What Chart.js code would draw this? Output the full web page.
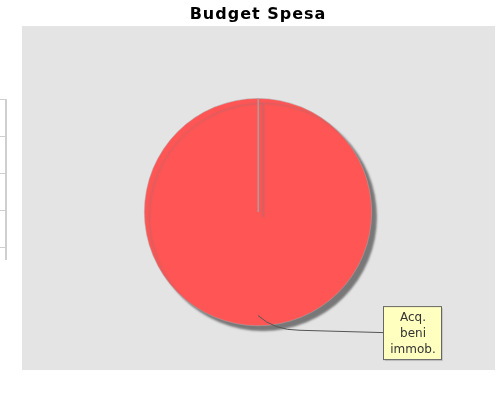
<!DOCTYPE html>
<html lang="it">
<head>
  <meta charset="UTF-8">
  <title>Budget Spesa</title>
  <script src="https://cdn.jsdelivr.net/npm/chart.js"></script>
  <style>
    body { margin: 0; background: #fff; }
    #wrap { position: relative; width: 497px; height: 398px; }
    #budgetChart { position: absolute; left: 0; top: 0; }
    /* pezzo di tabella tagliato a sinistra */
    .tabella { position: absolute; left: 0; top: 99px; width: 5px; border-right: 2px solid #cfcfcf; }
    .tabella div { height: 36px; border-top: 1px solid #cfcfcf; }
  </style>
</head>
<body>
  <div id="wrap">
    <div class="tabella"><div></div><div></div><div></div><div></div><div style="height:12px"></div></div>
    <canvas id="budgetChart" width="497" height="398"></canvas>
  </div>

  <script>
    const titolo = 'Budget Spesa';
    const voci = ['Acq. beni immob.'];
    const etichette = [['Acq.', 'beni', 'immob.']];
    const importi = [100];
    const colori = ['#FF5555'];

    // sfondo grigio dell'area del grafico (e spaziatura del titolo)
    const sfondo = {
      id: 'sfondo',
      beforeDraw(chart) {
        const ctx = chart.ctx;
        ctx.save();
        ctx.fillStyle = '#E4E4E4';
        ctx.fillRect(22, 26, 473, 344);
        ctx.restore();
        ctx.letterSpacing = '1px';
      }
    };

    // ombra della torta
    const ombra = {
      id: 'ombra',
      beforeDatasetsDraw(chart) {
        const ctx = chart.ctx;
        ctx.letterSpacing = '0px';
        ctx.save();
        ctx.shadowColor = 'rgba(120,120,120,1)';
        ctx.shadowOffsetX = 5;
        ctx.shadowOffsetY = 5;
        ctx.shadowBlur = 2;
      },
      afterDatasetsDraw(chart) {
        chart.ctx.restore();
      }
    };

    // bordo radiale e etichetta con linea di collegamento
    const etichetta = {
      id: 'etichetta',
      afterDatasetsDraw(chart) {
        const ctx = chart.ctx;
        const arc = chart.getDatasetMeta(0).data[0];
        const cx = arc.x, cy = arc.y, r = arc.outerRadius;

        ctx.save();
        ctx.strokeStyle = '#a0a0a0';
        ctx.lineWidth = 1;
        ctx.beginPath();
        ctx.moveTo(cx + 0.5, cy);
        ctx.lineTo(cx + 0.5 + Math.cos(arc.startAngle) * r, cy + Math.sin(arc.startAngle) * r);
        ctx.stroke();

        const bx = cx + 125, by = cy + 94, bw = 58, bh = 53;
        // linea di collegamento
        ctx.strokeStyle = '#555';
        ctx.beginPath();
        ctx.moveTo(cx, cy + r * 0.91);
        ctx.quadraticCurveTo(cx + 16, cy + r * 1.04, cx + 42, cy + r * 1.04);
        ctx.lineTo(bx, by + bh / 2);
        ctx.stroke();

        // riquadro
        ctx.fillStyle = '#c8c8c8';
        ctx.fillRect(bx + 2, by + 2, bw, bh);
        ctx.fillStyle = '#FFFFC0';
        ctx.fillRect(bx, by, bw, bh);
        ctx.strokeStyle = '#666';
        ctx.strokeRect(bx + 0.5, by + 0.5, bw, bh);

        ctx.fillStyle = '#333';
        ctx.font = '12px "DejaVu Sans"';
        ctx.textAlign = 'center';
        ctx.textBaseline = 'middle';
        etichette[0].forEach((riga, i) => {
          ctx.fillText(riga, bx + bw / 2 + 1, by + 12 + i * 16);
        });
        ctx.restore();
      }
    };

    new Chart(document.getElementById('budgetChart'), {
      type: 'pie',
      data: {
        labels: voci,
        datasets: [{
          data: importi,
          backgroundColor: colori,
          borderColor: '#aaa',
          borderWidth: 0.5
        }]
      },
      options: {
        responsive: false,
        animation: false,
        layout: { padding: { left: 19, right: 0, top: 0, bottom: 72 } },
        plugins: {
          legend: { display: false },
          tooltip: { enabled: false },
          title: {
            display: true,
            text: titolo,
            color: '#000',
            font: { family: 'DejaVu Sans', size: 16, weight: 'bold' },
            padding: { top: 5, bottom: 74 }
          }
        }
      },
      plugins: [sfondo, ombra, etichetta]
    });
  </script>
</body>
</html>
